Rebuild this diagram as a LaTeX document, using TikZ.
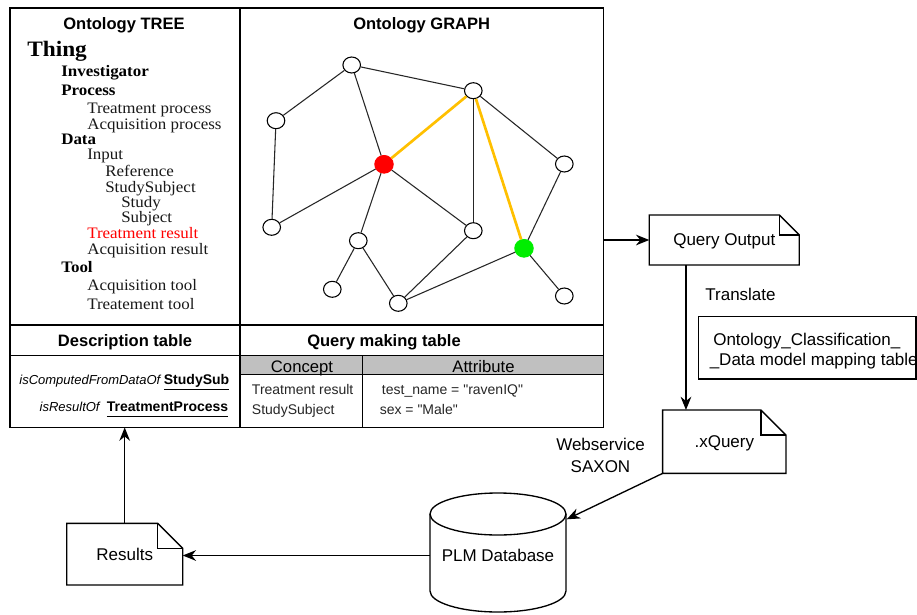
\documentclass[tikz,border=0pt]{standalone}
\usepackage{fontspec}
\setmainfont{Liberation Serif}
\setsansfont{Liberation Sans}
\newfontfamily\tabsans{Liberation Sans}
\usetikzlibrary{arrows.meta,shapes.geometric}
\definecolor{orangeedge}{HTML}{FFC000}
\definecolor{greennode}{HTML}{00EE00}
\definecolor{hdrgray}{HTML}{C0C0C0}
\newcommand\myfs[1]{\fontsize{#1}{#1}\selectfont}
\newcommand\wide[1]{\scalebox{1.06}[1]{#1}}
\newcommand\docshape[2]{%
  \draw[docline] (#1.north west) -- ([xshift=-#2]#1.north east) -- ([yshift=-#2]#1.north east) -- (#1.south east) -- (#1.south west) -- cycle;
  \draw[docline] ([xshift=-#2]#1.north east) -- ([xshift=-#2,yshift=-#2]#1.north east) -- ([yshift=-#2]#1.north east);
}
\begin{document}
\begin{tikzpicture}[x=0.75pt,y=-0.75pt,
  frame/.style={draw, line width=1pt},
  docline/.style={line width=1pt},
  gnode/.style={ellipse, draw, fill=white, line width=0.8pt, minimum width=13.2pt, minimum height=12pt, inner sep=0pt},
  rnode/.style={gnode, draw=red, fill=red, minimum width=13.8pt, minimum height=13.2pt},
  grnode/.style={gnode, draw=greennode, fill=greennode, minimum width=13.8pt, minimum height=13.2pt},
  gedge/.style={line width=0.8pt, draw=black!85},
  hiedge/.style={line width=2pt, draw=orangeedge},
  head/.style={font=\sffamily\bfseries\myfs{12.4}, anchor=base, inner sep=0pt},
  treeitem/.style={font=\myfs{12}, anchor=base west, inner sep=0pt, text=black!90},
  treebold/.style={font=\bfseries\myfs{12}, anchor=base west, inner sep=0pt},
  cell/.style={font=\tabsans\myfs{10.5}, anchor=base west, inner sep=0pt, text=black!85},
  colhead/.style={font=\sffamily\myfs{12.5}, anchor=base, inner sep=0pt},
  doc/.style={rectangle, inner sep=0pt, outer sep=0pt, font=\sffamily\myfs{12.75}, text depth=0pt},
  lbl/.style={font=\sffamily\myfs{12.75}, inner sep=0pt},
  arr/.style={line width=1pt, -{Stealth[length=10pt,width=8pt]}}
]
\fill[white] (0,0) rectangle (917,614);
\useasboundingbox (0,0) rectangle (917,614);

% main frame
\fill[hdrgray] (240,355.5) rectangle (603.3,374.5);
\node[frame, minimum width=445pt, minimum height=314.6pt, inner sep=0pt, outer sep=0pt] (main) at (306.65,217.75) {};
\draw[frame] (240,8) -- (240,427.5);
\draw[frame] (10,325) -- (603.3,325);
\draw[frame] (10,355.5) -- (603.3,355.5);
\draw[frame] (240,374.5) -- (603.3,374.5);
\draw[frame] (362.7,355.5) -- (362.7,427.5);

% headings
\node[head] (treehead) at (124,29.3) {Ontology TREE};
\node[head] (graphhead) at (421.7,29.3) {Ontology GRAPH};
\node[head] (deschead) at (125,346) {Description table};
\node[head] (queryhead) at (384,346) {Query making table};

% tree
\node[font=\bfseries\myfs{16.5}, anchor=base west, inner sep=0pt] (thing) at (27,56.7) {\wide{Thing}};
\node[treebold] (t1) at (61,76) {\wide{Investigator}};
\node[treebold] (t2) at (61,95) {\wide{Process}};
\node[treeitem] (t3) at (87,113.3) {\wide{Treatment process}};
\node[treeitem] (t4) at (87,129.3) {\wide{Acquisition process}};
\node[treebold] (t5) at (61,144.7) {\wide{Data}};
\node[treeitem] (t6) at (87,159.5) {\wide{Input}};
\node[treeitem] (t7) at (105,176.5) {\wide{Reference}};
\node[treeitem] (t8) at (105,192) {\wide{StudySubject}};
\node[treeitem] (t9) at (121,207.5) {\wide{Study}};
\node[treeitem] (t10) at (121,222.6) {\wide{Subject}};
\node[treeitem, text=red] (t11) at (87,238.2) {\wide{Treatment result}};
\node[treeitem] (t12) at (87,254.5) {\wide{Acquisition result}};
\node[treebold] (t13) at (61,272.7) {\wide{Tool}};
\node[treeitem] (t14) at (87,290.7) {\wide{Acquisition tool}};
\node[treeitem] (t15) at (87,309.3) {\wide{Treatement tool}};

% graph
\node[gnode] (n1) at (351.7,65) {};
\node[gnode] (n2) at (473.3,90.7) {};
\node[gnode] (n3) at (276,120.7) {};
\node[rnode] (n4) at (384,164.3) {};
\node[gnode] (n5) at (564.3,164) {};
\node[gnode] (n6) at (271.7,227.3) {};
\node[gnode] (n7) at (358.3,240.7) {};
\node[gnode] (n8) at (473.3,230.7) {};
\node[grnode] (n9) at (524,248.3) {};
\node[gnode] (n10) at (332.3,289.3) {};
\node[gnode] (n11) at (398.3,303.3) {};
\node[gnode] (n12) at (564.3,296) {};
\draw[gedge] (n1) -- (n2);
\draw[gedge] (n1) -- (n3);
\draw[gedge] (n1) -- (n4);
\draw[gedge] (n2) -- (n8);
\draw[gedge] (n2) -- (n5);
\draw[gedge] (n3) -- (n6);
\draw[gedge] (n6) -- (n4);
\draw[gedge] (n4) -- (n7);
\draw[gedge] (n4) -- (n8);
\draw[gedge] (n5) -- (n9);
\draw[gedge] (n7) -- (n10);
\draw[gedge] (n7) -- (n11);
\draw[gedge] (n11) -- (n8);
\draw[gedge] (n11) -- (n9);
\draw[gedge] (n9) -- (n12);
\draw[hiedge] (n4) -- (n2);
\draw[hiedge] (n2) -- (n9);

% description table
\node[anchor=base east, inner sep=0pt] (desc1) at (229.5,384.3) {\sffamily\itshape\myfs{9.75}isComputedFromDataOf \upshape\bfseries\myfs{10.5}\underline{StudySub}};
\node[anchor=base east, inner sep=0pt] (desc2) at (228.5,411.7) {\sffamily\itshape\myfs{9.75}isResultOf \ \upshape\bfseries\myfs{10.5}\underline{\vphantom{y}TreatmentProcess}};

% query making table
\node[colhead] (concept) at (302,372.7) {Concept};
\node[colhead] (attribute) at (483.5,372.7) {Attribute};
\node[cell] (c1) at (251.7,394) {Treatment result};
\node[cell] (c2) at (251.7,414.3) {StudySubject};
\node[cell] (a1) at (381.7,394) {test\_name = "ravenIQ"};
\node[cell] (a2) at (379.5,414.5) {sex = "Male"};

% right side flow
\node[doc, minimum width=112.5pt, minimum height=37.5pt] (qo) at (724.3,240) {Query Output};
\docshape{qo}{15pt}
\node[doc, minimum width=92.5pt, minimum height=47.5pt] (xq) at (724.3,441.7) {.xQuery};
\docshape{xq}{18.75pt}
\node[doc, minimum width=87pt, minimum height=46.3pt] (res) at (124.7,554.2) {Results};
\docshape{res}{18.75pt}

\node[draw, line width=1pt, minimum width=163.3pt, minimum height=46.7pt, inner sep=0pt] (map) at (807.15,347.85) {};
\node[lbl, anchor=base west] (maptext1) at (713,345) {Ontology\_Classification\_};
\node[lbl, anchor=base west] (maptext2) at (709.5,365.7) {\_Data model mapping table};

\node[lbl, anchor=base] (tr) at (740.5,300.7) {Translate};
\node[lbl, align=center, font=\sffamily\fontsize{12.75}{16}\selectfont] (ws) at (600.5,455.5) {Webservice\\SAXON};

% database cylinder
\draw[docline] (498,514) ellipse [x radius=51pt, y radius=15.75pt];
\draw[docline] (430,514) -- (430,591) arc[start angle=180, end angle=360, x radius=51pt, y radius=15.75pt] -- (566,514);
\node[lbl, minimum width=102pt] (db) at (498,555.5) {PLM Database};
\coordinate (dbin) at (566.7,519.3);

% connectors
\draw[arr] (main.east |- qo.west) -- (qo.west);
\draw[arr] ([xshift=27.5pt]qo.south west) -- ([xshift=27.5pt]qo.south west |- xq.north);
\draw[arr] (xq.south west) -- (dbin);
\draw[arr] (db.west) -- (db.west -| res.east);
\draw[arr] (res.north) -- (res.north |- main.south);
\end{tikzpicture}
\end{document}
